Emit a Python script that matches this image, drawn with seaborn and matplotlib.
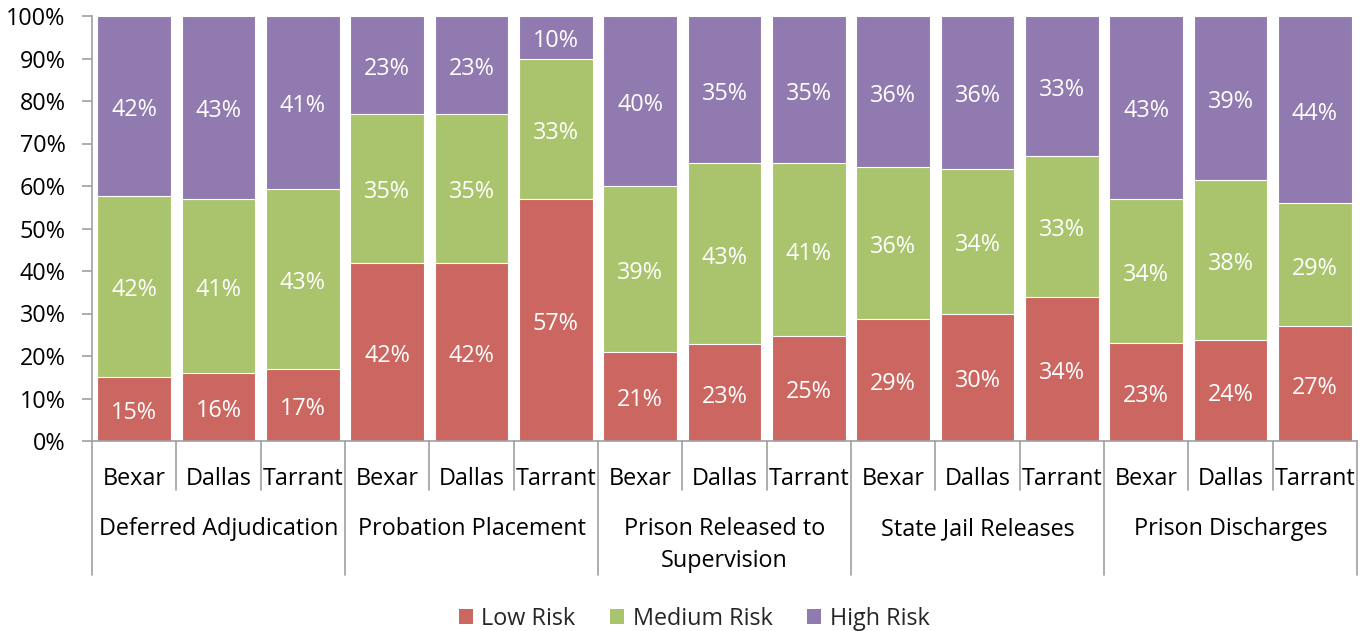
import matplotlib
matplotlib.use("Agg")
import matplotlib.pyplot as plt
import matplotlib.transforms as mtransforms
from matplotlib.patches import Patch
import numpy as np
import pandas as pd
import seaborn as sns

# ---- data ----
groups = ["Deferred Adjudication", "Probation Placement", "Prison Released to\nSupervision",
          "State Jail Releases", "Prison Discharges"]
counties = ["Bexar", "Dallas", "Tarrant"]
low_risk = [15, 16, 17, 42, 42, 57, 21, 23, 25, 29, 30, 34, 23, 24, 27]
medium_risk = [42, 41, 43, 35, 35, 33, 39, 43, 41, 36, 34, 33, 34, 38, 29]
high_risk = [42, 43, 41, 23, 23, 10, 40, 35, 35, 36, 36, 33, 43, 39, 44]
series_names = ["Low Risk", "Medium Risk", "High Risk"]
colors = ["#CC6660", "#A9C46C", "#917AB0"]

sns.set_theme(style="white")
plt.rcParams["font.family"] = ["Open Sans", "DejaVu Sans"]

keys = [f"{g}|{c}" for g in groups for c in counties]
low = np.array(low_risk, float)
med = np.array(medium_risk, float)
high = np.array(high_risk, float)
tot = low + med + high
lowp = low / tot * 100
medp = med / tot * 100
highp = high / tot * 100
df = pd.DataFrame({"key": keys, "low": lowp, "lowmed": lowp + medp, "all": lowp + medp + highp})

fig = plt.figure(figsize=(13.72, 6.31), dpi=100)
ax = fig.add_axes([92 / 1372, 1 - 441 / 631, (1357 - 92) / 1372, 425 / 631])

for col, c in zip(["all", "lowmed", "low"], colors[::-1]):
    sns.barplot(data=df, x="key", y=col, order=keys, color=c, width=0.87, ax=ax,
                edgecolor="white", linewidth=0.8, saturation=1)

FS = 16.8
# data labels (nudged down a few pixels)
lab_tr = ax.transData + mtransforms.ScaledTranslation(0, -4 / 100, fig.dpi_scale_trans)
for i in range(len(keys)):
    segs = [(0, lowp[i], low_risk[i]), (lowp[i], medp[i], medium_risk[i]),
            (lowp[i] + medp[i], highp[i], high_risk[i])]
    for b, h, v in segs:
        ax.text(i, b + h / 2, f"{v}%", ha="center", va="center", color="white", fontsize=FS,
                transform=lab_tr)

ax.set_ylim(0, 100)
ax.set_xlim(-0.5, len(keys) - 0.5)
ax.set_yticks(np.arange(0, 101, 10))
ax.set_yticklabels([f"{v}%" for v in range(0, 101, 10)], fontsize=FS, color="black")
ax.set_xticks([])
ax.set_xlabel("")
ax.set_ylabel("")
for s in ["top", "right"]:
    ax.spines[s].set_visible(False)
for s in ["left", "bottom"]:
    ax.spines[s].set_color("#A0A0A0")
    ax.spines[s].set_linewidth(1.2)
ax.tick_params(axis="y", which="both", left=True, length=7, width=1.2, color="#A0A0A0", pad=12)

# category axis separators and labels
trans = mtransforms.blended_transform_factory(ax.transData, ax.transAxes)
px = 1 / 425
minor_y = -(490 - 441) * px
major_y = -(575 - 441) * px
for i in range(len(keys) + 1):
    yb = major_y if i % 3 == 0 else minor_y
    ax.plot([i - 0.5, i - 0.5], [0, yb], transform=trans, color="#A0A0A0", lw=1.2, clip_on=False)
for i, k in enumerate(keys):
    ax.text(i, -(479 - 441) * px, k.split("|")[1], transform=trans, ha="center", va="center",
            fontsize=FS, color="black")
for gi, g in enumerate(groups):
    for j, line in enumerate(g.split("\n")):
        ax.text(gi * 3 + 1, -(529 + 32 * j - 441) * px, line, transform=trans, ha="center",
                va="center", fontsize=FS, color="black")

handles = [Patch(facecolor=c, edgecolor="none") for c in colors]
fig.legend(handles, series_names, loc="center", bbox_to_anchor=(0.506, 1 - 619 / 631), ncol=3,
           frameon=False, fontsize=FS, handlelength=0.6, handleheight=0.6, columnspacing=1.5,
           handletextpad=0.35)

fig.savefig("out.png", dpi=100)
